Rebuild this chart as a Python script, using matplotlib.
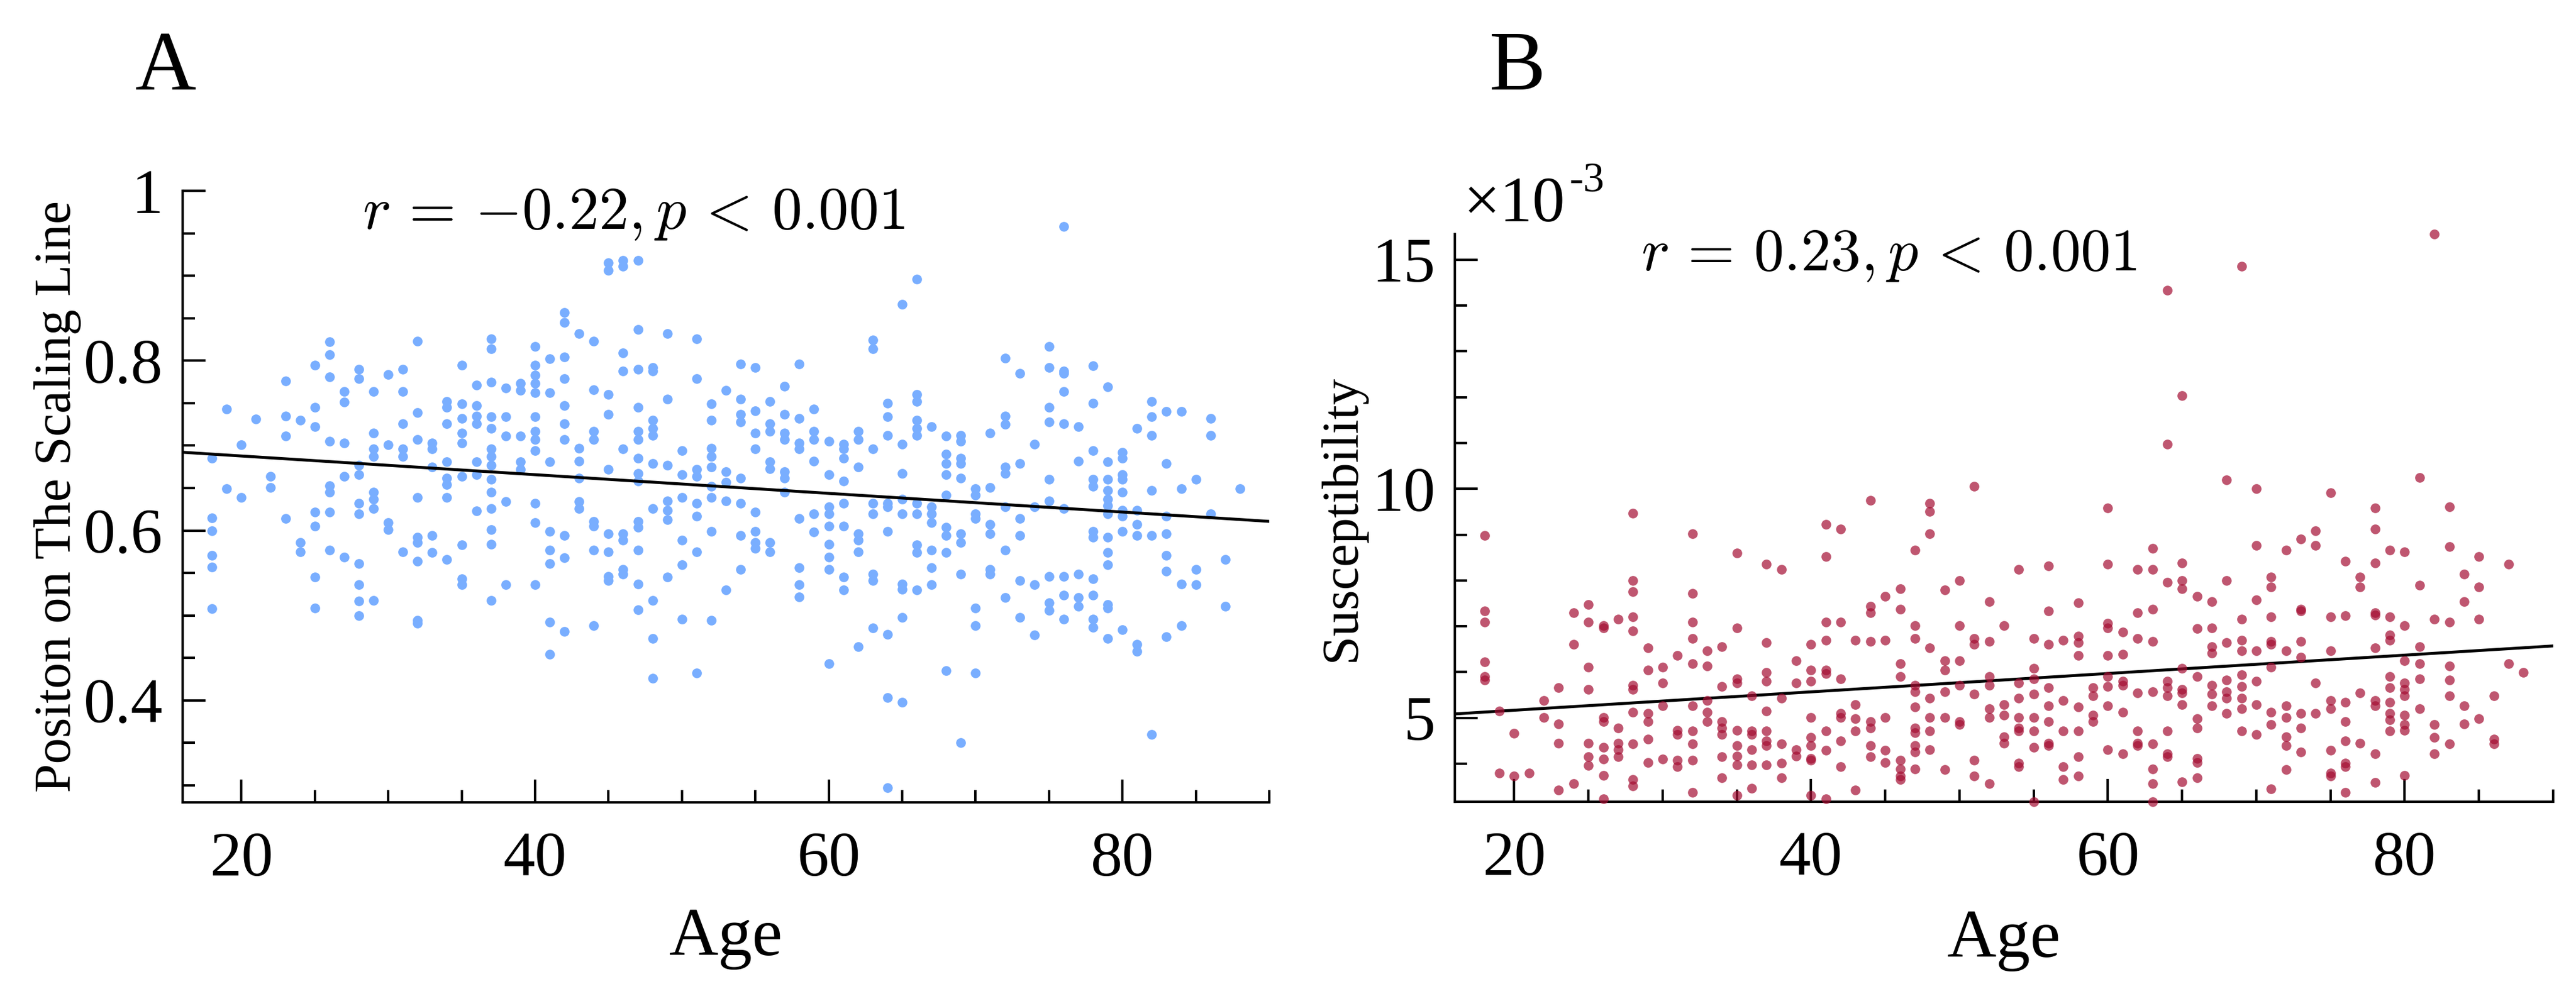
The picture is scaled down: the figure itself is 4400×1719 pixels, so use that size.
import numpy as np
import matplotlib
matplotlib.use("Agg")
import matplotlib.pyplot as plt
from matplotlib.ticker import MultipleLocator, FuncFormatter

plt.rcParams["font.family"] = ["Liberation Serif", "DejaVu Serif"]
plt.rcParams["mathtext.fontset"] = "cm"

# ages present in both samples, one column of points per year
ages = list(range(18, 89))

# panel A: position on the scaling line, read column by column
count_a = [6, 2, 2, 1, 2, 4, 3, 7, 8, 5, 10, 8, 4, 6, 9, 5, 8, 9, 7, 14,
           5, 5, 12, 8, 10, 6, 8, 9, 9, 14, 10, 7, 6, 8, 9, 5, 8, 8, 7, 7,
           8, 6, 9, 8, 7, 8, 9, 9, 11, 7, 9, 9, 7, 6, 8, 6, 4, 9, 9, 5,
           11, 13, 9, 6, 6, 7, 4, 3, 3, 2, 1]
pos_a = [
    0.685, 0.615, 0.600, 0.571, 0.557, 0.508,  # 18
    0.743, 0.649,
    0.701, 0.639,
    0.731,
    0.664, 0.651,
    0.776, 0.735, 0.711, 0.614,
    0.730, 0.586, 0.575,
    0.795, 0.745, 0.722, 0.622, 0.605, 0.545, 0.509,  # 25
    0.822, 0.807, 0.781, 0.705, 0.653, 0.645, 0.622, 0.577,
    0.764, 0.751, 0.703, 0.664, 0.569,
    0.790, 0.779, 0.677, 0.666, 0.632, 0.620, 0.561, 0.536, 0.517, 0.500,
    0.764, 0.715, 0.696, 0.687, 0.645, 0.637, 0.626, 0.518,
    0.784, 0.701, 0.609, 0.601,  # 30
    0.790, 0.764, 0.726, 0.696, 0.687, 0.575,
    0.823, 0.739, 0.707, 0.639, 0.592, 0.586, 0.564, 0.494, 0.491,
    0.703, 0.696, 0.675, 0.594, 0.574,
    0.752, 0.745, 0.726, 0.681, 0.662, 0.654, 0.639, 0.566,
    0.795, 0.749, 0.732, 0.715, 0.703, 0.664, 0.583, 0.543, 0.536,  # 35
    0.771, 0.747, 0.735, 0.726, 0.681, 0.666, 0.623,
    0.826, 0.814, 0.775, 0.734, 0.720, 0.696, 0.687, 0.677, 0.660, 0.645,
    0.626, 0.601, 0.584, 0.518,
    0.768, 0.734, 0.711, 0.634, 0.536,
    0.773, 0.765, 0.711, 0.681, 0.672,
    0.817, 0.795, 0.783, 0.773, 0.762, 0.734, 0.717, 0.707, 0.694, 0.632,
    0.609, 0.536,  # 40
    0.802, 0.762, 0.681, 0.599, 0.577, 0.561, 0.492, 0.454,
    0.857, 0.845, 0.804, 0.779, 0.747, 0.726, 0.707, 0.594, 0.568, 0.481,
    0.832, 0.697, 0.682, 0.662, 0.634, 0.626,
    0.823, 0.766, 0.717, 0.707, 0.611, 0.605, 0.577, 0.488,
    0.915, 0.906, 0.760, 0.737, 0.672, 0.596, 0.575, 0.546, 0.541,  # 45
    0.918, 0.911, 0.809, 0.788, 0.696, 0.596, 0.589, 0.554, 0.549,
    0.918, 0.837, 0.790, 0.745, 0.717, 0.707, 0.685, 0.667, 0.658, 0.611,
    0.604, 0.577, 0.537, 0.507,
    0.792, 0.788, 0.730, 0.720, 0.712, 0.679, 0.626, 0.518, 0.473, 0.426,
    0.832, 0.755, 0.677, 0.635, 0.624, 0.613, 0.545,
    0.694, 0.666, 0.639, 0.589, 0.560, 0.496,  # 50
    0.826, 0.779, 0.672, 0.664, 0.632, 0.617, 0.575, 0.432,
    0.749, 0.730, 0.697, 0.687, 0.675, 0.652, 0.639, 0.599, 0.494,
    0.765, 0.669, 0.657, 0.635, 0.530,
    0.796, 0.755, 0.737, 0.728, 0.662, 0.632, 0.594, 0.554,
    0.792, 0.741, 0.715, 0.696, 0.622, 0.599, 0.586, 0.579,  # 55
    0.752, 0.726, 0.717, 0.681, 0.673, 0.586, 0.575,
    0.770, 0.737, 0.715, 0.707, 0.669, 0.662, 0.645,
    0.796, 0.732, 0.703, 0.696, 0.614, 0.556, 0.536, 0.522,
    0.743, 0.717, 0.707, 0.682, 0.620, 0.598,
    0.705, 0.666, 0.628, 0.620, 0.605, 0.584, 0.569, 0.554, 0.443,  # 60
    0.702, 0.696, 0.685, 0.658, 0.632, 0.605, 0.545, 0.530,
    0.717, 0.707, 0.675, 0.596, 0.589, 0.575, 0.463,
    0.824, 0.814, 0.696, 0.632, 0.620, 0.549, 0.541, 0.485,
    0.750, 0.734, 0.712, 0.632, 0.628, 0.599, 0.478, 0.403, 0.297,
    0.866, 0.702, 0.667, 0.637, 0.620, 0.537, 0.531, 0.498, 0.398,  # 65
    0.896, 0.760, 0.752, 0.730, 0.720, 0.712, 0.632, 0.620, 0.583, 0.574,
    0.530,
    0.722, 0.628, 0.620, 0.609, 0.577, 0.556, 0.536,
    0.711, 0.690, 0.679, 0.666, 0.642, 0.604, 0.594, 0.574, 0.435,
    0.712, 0.705, 0.685, 0.679, 0.662, 0.596, 0.586, 0.549, 0.350,
    0.649, 0.642, 0.620, 0.614, 0.509, 0.488, 0.432,  # 70
    0.715, 0.651, 0.607, 0.596, 0.554, 0.549,
    0.803, 0.735, 0.725, 0.675, 0.667, 0.628, 0.577, 0.521,
    0.785, 0.679, 0.614, 0.594, 0.541, 0.498,
    0.702, 0.628, 0.536, 0.477,
    0.817, 0.792, 0.745, 0.728, 0.660, 0.635, 0.546, 0.515, 0.506,  # 75
    0.958, 0.788, 0.785, 0.764, 0.726, 0.626, 0.546, 0.524, 0.496,
    0.722, 0.682, 0.549, 0.521, 0.511,
    0.794, 0.750, 0.694, 0.660, 0.652, 0.599, 0.592, 0.543, 0.524, 0.496,
    0.486,
    0.769, 0.681, 0.660, 0.647, 0.637, 0.629, 0.620, 0.592, 0.574, 0.560,
    0.513, 0.509, 0.473,
    0.692, 0.685, 0.666, 0.660, 0.645, 0.624, 0.617, 0.599, 0.483,  # 80
    0.720, 0.624, 0.607, 0.594, 0.466, 0.458,
    0.752, 0.734, 0.712, 0.647, 0.594, 0.360,
    0.740, 0.679, 0.617, 0.596, 0.571, 0.552, 0.475,
    0.740, 0.649, 0.537, 0.488,
    0.660, 0.554, 0.536,  # 85
    0.732, 0.712, 0.620,
    0.566, 0.511,
    0.649,
]

# panel B: susceptibility, in units of 1e-3
count_b = [6, 2, 2, 1, 2, 4, 3, 7, 8, 5, 11, 6, 4, 5, 10, 5, 7, 9, 6, 9,
           5, 4, 9, 9, 7, 5, 8, 5, 8, 11, 8, 6, 6, 6, 7, 5, 8, 8, 8, 5,
           8, 4, 9, 6, 7, 9, 9, 9, 8, 7, 7, 9, 7, 9, 7, 8, 4, 8, 8, 4,
           10, 10, 10, 6, 5, 7, 4, 4, 3, 2, 1]
susc_b = [
    8.98, 7.34, 7.09, 6.22, 5.90, 5.83,  # 18
    5.15, 3.80,
    4.66, 3.73,
    3.80,
    5.38, 5.01,
    5.66, 4.87, 4.45, 3.42,
    7.30, 6.60, 3.56,
    7.48, 7.09, 6.11, 5.62, 4.45, 4.15, 3.96,  # 25
    7.02, 6.97, 5.01, 4.92, 4.36, 4.10, 3.75, 3.24,
    7.16, 4.78, 4.45, 4.31, 4.15,
    9.47, 8.00, 7.76, 7.20, 6.90, 5.71, 5.62, 5.13, 4.43, 3.66, 3.52,
    6.53, 6.04, 5.10, 4.92, 4.54, 4.03,
    6.11, 5.76, 5.27, 4.10,  # 30
    6.36, 4.73, 4.64, 4.08, 3.94,
    9.02, 7.72, 7.09, 6.74, 6.18, 5.27, 4.71, 4.43, 4.08, 3.38,
    6.46, 6.13, 5.38, 5.13, 4.92,
    6.55, 5.69, 4.92, 4.78, 4.64, 4.15, 3.70,
    8.60, 6.97, 5.85, 5.76, 4.73, 4.39, 4.17, 3.98, 3.31,  # 35
    5.48, 4.71, 4.64, 4.31, 3.98, 3.47,
    8.35, 6.64, 5.99, 5.80, 5.15, 4.71, 4.50, 4.39, 3.98,
    8.24, 5.43, 4.43, 4.01, 3.70,
    6.25, 5.76, 4.31, 4.17,
    6.60, 6.04, 5.80, 5.01, 4.57, 4.39, 4.12, 4.08, 3.31,  # 40
    9.22, 8.52, 7.09, 6.69, 6.04, 5.97, 4.71, 4.29, 3.24,
    9.12, 7.09, 5.85, 5.10, 5.01, 4.50, 3.94,
    6.69, 5.29, 4.99, 4.71, 3.42,
    9.75, 7.44, 7.30, 6.67, 4.92, 4.78, 4.39, 4.15,
    7.65, 6.69, 5.01, 4.29, 4.03,  # 45
    7.82, 7.37, 6.18, 5.90, 4.08, 3.89, 3.73, 3.66,
    8.66, 7.02, 6.74, 5.71, 5.57, 5.24, 4.78, 4.68, 4.39, 4.26, 3.89,
    9.68, 9.50, 9.02, 6.53, 5.43, 5.01, 4.71, 4.31,
    7.79, 6.25, 6.04, 5.57, 5.01, 3.87,
    8.00, 7.02, 6.25, 5.71, 4.92, 4.85,  # 50
    10.06, 6.74, 6.60, 5.52, 4.08, 3.73,
    7.54, 6.67, 5.90, 5.71, 5.20, 5.01, 3.56,
    7.02, 5.29, 5.06, 4.59, 4.45,
    8.24, 5.76, 5.43, 5.01, 4.78, 4.71, 4.01, 3.94,
    6.74, 6.08, 5.85, 5.52, 5.01, 4.71, 4.36, 3.17,  # 55
    8.32, 7.34, 6.60, 5.66, 5.27, 4.92, 4.45, 4.39,
    6.69, 5.38, 4.71, 3.94, 3.66,
    7.51, 6.78, 6.64, 6.36, 5.24, 4.71, 4.15, 3.73,
    5.66, 5.48, 5.06, 4.92,
    9.58, 8.35, 7.06, 6.97, 6.36, 5.90, 5.69, 5.27, 4.31,  # 60
    6.88, 6.39, 5.80, 5.71, 5.13, 4.22,
    8.24, 7.30, 6.74, 5.55, 4.71, 4.45, 4.39,
    8.70, 8.24, 7.37, 6.67, 5.57, 4.43, 3.89, 3.56, 3.17,
    14.34, 10.97, 7.96, 5.80, 5.66, 5.48, 4.71, 4.22, 4.15,
    12.03, 8.38, 8.00, 7.82, 6.08, 5.62, 5.55, 5.29, 3.61,  # 65
    7.65, 6.95, 5.90, 4.99, 4.78, 4.12, 4.03, 3.70,
    7.54, 6.97, 6.55, 6.41, 5.71, 5.52, 5.27,
    10.20, 8.00, 6.64, 5.83, 5.57, 5.43, 5.10,
    14.86, 7.16, 6.69, 6.46, 5.94, 5.69, 5.43, 5.20, 4.71,
    10.00, 8.77, 7.58, 6.46, 5.80, 5.29, 4.64,  # 70
    8.07, 7.86, 7.20, 6.67, 6.60, 6.11, 5.13, 4.85, 3.45,
    8.66, 6.46, 5.27, 5.01, 4.59, 4.39, 3.87,
    8.91, 7.37, 7.34, 6.67, 6.32, 5.10, 4.78, 4.26,
    9.08, 8.77, 5.76, 5.10,
    9.92, 7.20, 6.46, 5.38, 5.20, 4.29, 3.80, 3.73,  # 75
    8.42, 7.23, 5.34, 4.92, 4.50, 4.01, 3.94, 3.38,
    8.07, 7.86, 5.55, 4.45,
    9.58, 9.12, 8.38, 7.30, 7.25, 6.53, 5.38, 5.27, 4.22, 3.59,
    8.66, 7.20, 6.81, 6.69, 5.90, 5.66, 5.34, 5.10, 4.96, 4.71,
    8.63, 7.02, 6.25, 5.76, 5.62, 5.48, 5.06, 4.85, 4.73, 3.75,  # 80
    10.24, 7.90, 6.55, 6.18, 5.85, 5.20,
    15.56, 7.16, 4.85, 4.57, 4.22,
    9.61, 8.74, 7.09, 6.13, 5.83, 5.48, 4.43,
    8.14, 7.54, 5.27, 4.87,
    8.52, 7.86, 7.16, 4.99,  # 85
    5.48, 4.54, 4.43,
    8.35, 6.18,
    5.99,
]

stats_text = [r"$r\,=\,{-}0.22, p\,<\,0.001$", r"$r\,=\,0.23, p\,<\,0.001$"]

assert sum(count_a) == len(pos_a), (sum(count_a), len(pos_a))
assert sum(count_b) == len(susc_b), (sum(count_b), len(susc_b))

age_a = np.repeat(ages, count_a)
age_b = np.repeat(ages, count_b)
pos_a = np.array(pos_a)
susc_b = np.array(susc_b)

W, H = 4400, 1719
fig = plt.figure(figsize=(W / 400, H / 400), dpi=400)
axA = fig.add_axes([312 / W, 1 - 1371 / H, (2168 - 312) / W, (1371 - 326) / H])
axB = fig.add_axes([2485 / W, 1 - 1370 / H, (4361 - 2485) / W, (1370 - 400) / H])


def style(ax):
    for s in ("top", "right"):
        ax.spines[s].set_visible(False)
    for s in ("left", "bottom"):
        ax.spines[s].set_linewidth(0.75)
    ax.tick_params(which="both", direction="in", width=0.75, labelsize=19.5)
    ax.tick_params(which="major", length=7)
    ax.tick_params(which="minor", length=3.8)
    ax.tick_params(axis="x", pad=9)
    ax.tick_params(axis="y", pad=6)
    ax.set_xlim(16, 90)
    ax.xaxis.set_major_locator(MultipleLocator(20))
    ax.xaxis.set_minor_locator(MultipleLocator(5))


def fit_line(ax, x, y):
    k, b = np.polyfit(x, y, 1)
    xs = np.array(ax.get_xlim())
    ax.plot(xs, k * xs + b, color="black", lw=0.9, zorder=3)


# panel A
style(axA)
axA.scatter(age_a, pos_a, s=9, color="#79AEFF", linewidths=0, zorder=2,
            clip_on=False)
axA.set_ylim(0.28, 1.0)
axA.yaxis.set_major_locator(MultipleLocator(0.2))
axA.yaxis.set_minor_locator(MultipleLocator(0.05))
axA.yaxis.set_major_formatter(FuncFormatter(lambda v, p: "%g" % round(v, 3)))
fit_line(axA, age_a, pos_a)
axA.set_xlabel("Age", fontsize=21)
axA.set_ylabel("Positon on The Scaling Line", fontsize=16)
axA.xaxis.set_label_coords(0.5, -0.172)
axA.yaxis.set_label_coords(-0.093, 0.5)
axA.text(0.415, 0.938, stats_text[0], transform=axA.transAxes,
         ha="center", va="baseline", fontsize=18.5)

# panel B
style(axB)
axB.scatter(age_b, susc_b, s=9, color="#A50F34", alpha=0.7, linewidths=0,
            zorder=4, clip_on=False)
axB.set_ylim(3.17, 15.56)
axB.yaxis.set_major_locator(MultipleLocator(5))
axB.yaxis.set_minor_locator(MultipleLocator(1))
axB.yaxis.set_major_formatter(FuncFormatter(lambda v, p: "%g" % v))
fit_line(axB, age_b, susc_b)
axB.set_xlabel("Age", fontsize=21)
axB.set_ylabel("Susceptibility", fontsize=16)
axB.xaxis.set_label_coords(0.5, -0.19)
axB.yaxis.set_label_coords(-0.081, 0.5)
axB.text(0.3955, 0.936, stats_text[1], transform=axB.transAxes,
         ha="center", va="baseline", fontsize=18.5)
axB.text(0.0075, 1.0227, "\u00d710", transform=axB.transAxes,
         ha="left", va="baseline", fontsize=20)
axB.text(0.104, 1.075, "-3", transform=axB.transAxes,
         ha="left", va="baseline", fontsize=13)

# panel letters
fig.text(231 / W, 1 - 153 / H, "A", fontsize=26, ha="left", va="baseline")
fig.text(2544 / W, 1 - 153 / H, "B", fontsize=26, ha="left", va="baseline")

fig.savefig("out.png", dpi=400, facecolor="white")
